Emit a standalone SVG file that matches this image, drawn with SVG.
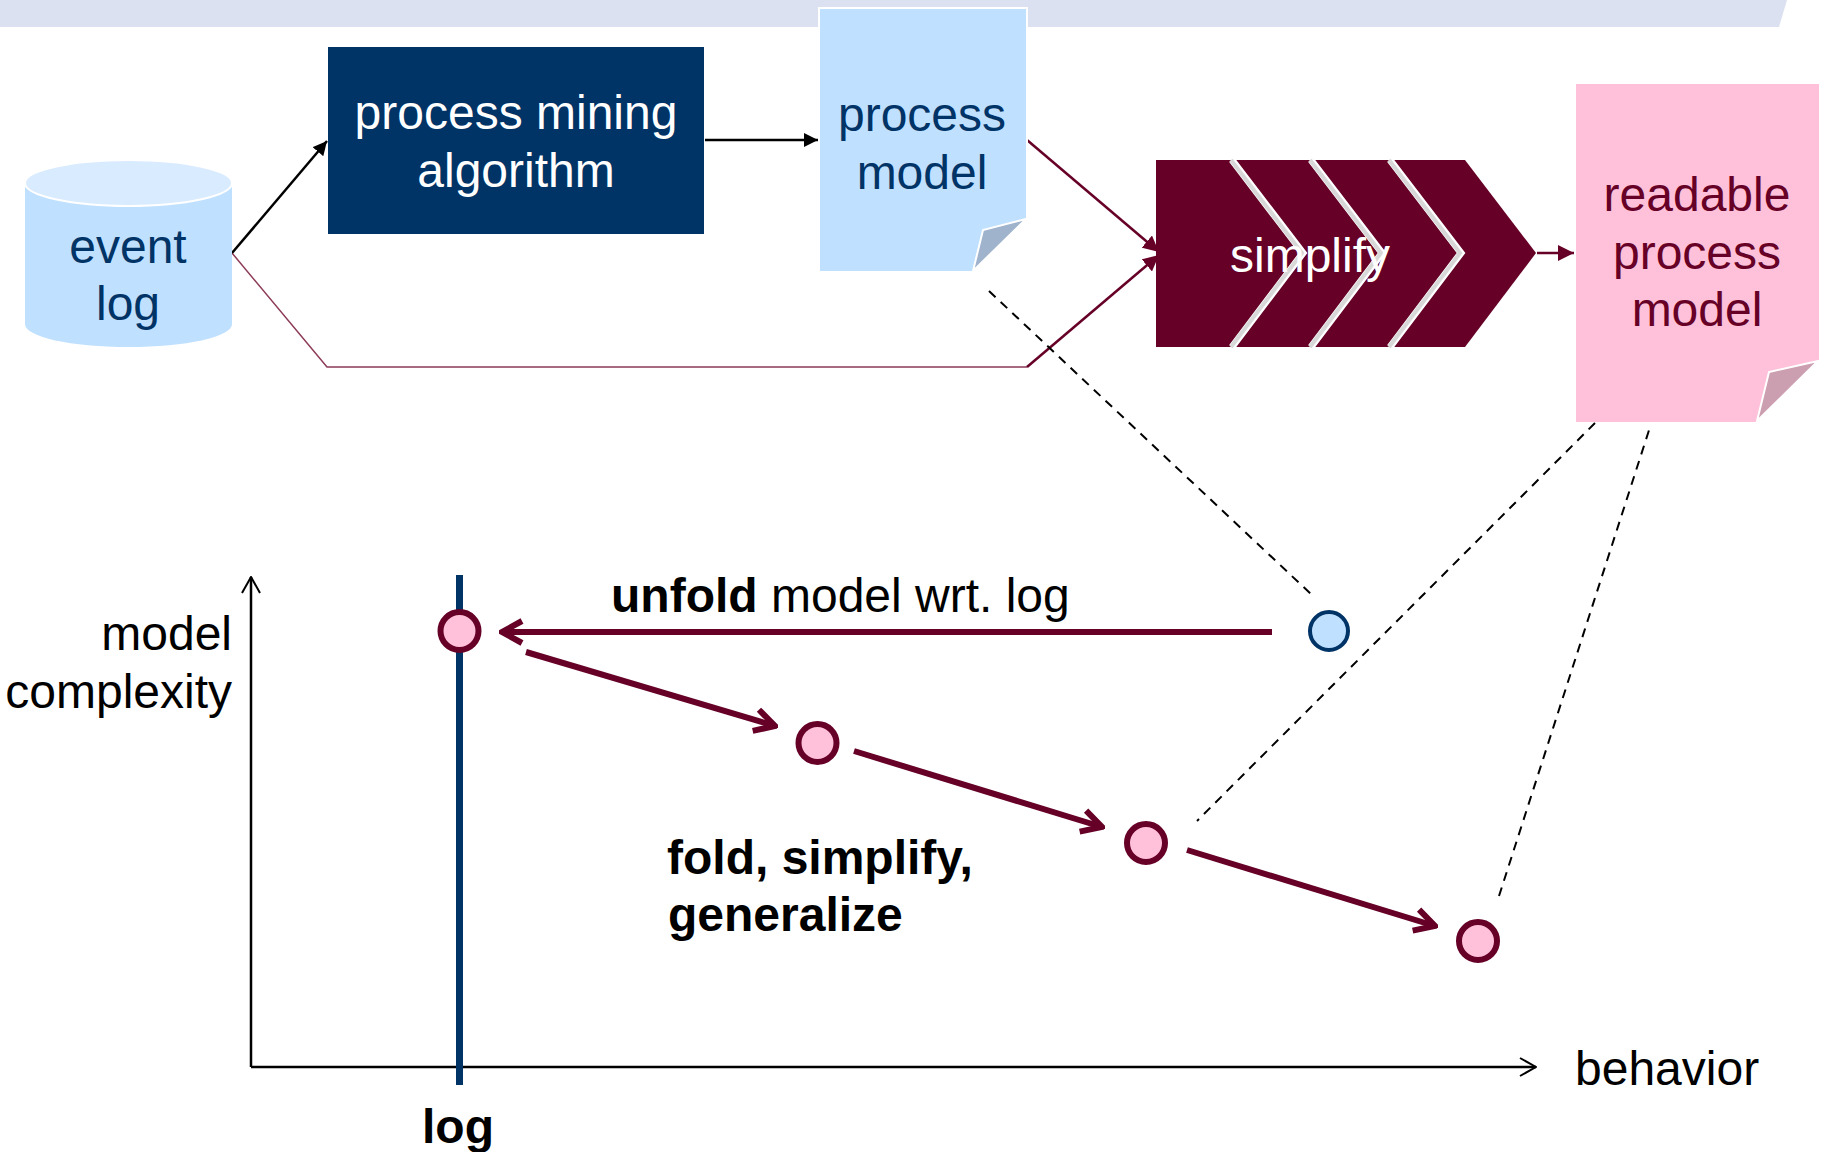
<svg xmlns="http://www.w3.org/2000/svg" width="1825" height="1152" viewBox="0 0 1825 1152">
<style>
text{font-family:"Liberation Sans",Arial,sans-serif;font-size:48px;text-anchor:middle}
.w{fill:#fff}.b{fill:#003366}.r{fill:#660026}.k{fill:#000}
.l{text-anchor:start}.e{text-anchor:end}.bold{font-weight:700}
.thin{fill:none;stroke:#8C3A58;stroke-width:1.500}
.dash{fill:none;stroke:#000;stroke-width:2;stroke-dasharray:9 7}
.thick{fill:none;stroke:#660026;stroke-width:6}
.pink{fill:#FFC0D9;stroke:#660026;stroke-width:6}
.sep{fill:none;stroke:#fff;stroke-width:7}
.sep2{fill:none;stroke:#D8D8D8;stroke-width:4}
</style>
<defs>
<marker id="ak" viewBox="0 0 10 10" refX="10" refY="5" markerWidth="14" markerHeight="14" markerUnits="userSpaceOnUse" orient="auto"><path d="M0 0L10 5L0 10Z" fill="#000"/></marker>
<marker id="ar" viewBox="0 0 10 10" refX="10" refY="5" markerWidth="16" markerHeight="16" markerUnits="userSpaceOnUse" orient="auto"><path d="M0 0L10 5L0 10Z" fill="#660026"/></marker>
<marker id="ao" viewBox="0 0 20 20" refX="19" refY="10" markerWidth="20" markerHeight="20" markerUnits="userSpaceOnUse" orient="auto"><path d="M3 1L19 10L3 19" fill="none" stroke="#000" stroke-width="2"/></marker>
<marker id="at" viewBox="0 0 30 30" refX="27" refY="15" markerWidth="30" markerHeight="30" markerUnits="userSpaceOnUse" orient="auto"><path d="M7 4L27 15L7 26" fill="none" stroke="#660026" stroke-width="6"/></marker>
</defs>
<rect width="1825" height="1152" fill="#fff"/>
<polygon id="banner" points="0,0 1787,0 1779,27 0,27" fill="#DCE1F2"/>
<g id="connectors">
<path class="thin" d="M232 253L327 367H1027"/>
<path d="M1027 367L1159 255" fill="none" stroke="#660026" stroke-width="2.500" marker-end="url(#ar)"/>
<path d="M232 253L327 141" fill="none" stroke="#000" stroke-width="2.500" marker-end="url(#ak)"/>
<path d="M705 140H818" fill="none" stroke="#000" stroke-width="2.500" marker-end="url(#ak)"/>
<path d="M1027 140L1159 252" fill="none" stroke="#660026" stroke-width="2.500" marker-end="url(#ar)"/>
<path d="M1537 253H1574" fill="none" stroke="#660026" stroke-width="2.500" marker-end="url(#ar)"/>
<path class="dash" d="M989 291L1312 595"/>
<path class="dash" d="M1595 423L1197 821"/>
<path class="dash" d="M1499 896L1651 424"/>
<path d="M251 1067V577" fill="none" stroke="#000" stroke-width="2.500" marker-end="url(#ao)"/>
<path d="M251 1067H1536" fill="none" stroke="#000" stroke-width="2.500" marker-end="url(#ao)"/>
<path d="M459.500 575V1085" fill="none" stroke="#003366" stroke-width="7"/>
<path class="thick" d="M1272 632H502" marker-end="url(#at)"/>
<path class="thick" d="M526 652L775 726" marker-end="url(#at)"/>
<path class="thick" d="M854 751L1102 827" marker-end="url(#at)"/>
<path class="thick" d="M1187 850L1435 926" marker-end="url(#at)"/>
</g>
<g id="event-log">
<path d="M25 183V324C25 337 71 347 128.500 347S232 337 232 324V183Z" fill="#C0E0FF"/>
<ellipse cx="128.500" cy="183" rx="103.500" ry="23" fill="#D9EBFF" stroke="#fff" stroke-width="2"/>
<text x="128" y="263" class="b">event</text>
<text x="128" y="320" class="b">log</text>
</g>
<g id="algorithm">
<rect x="328" y="47" width="376" height="187" fill="#003366"/>
<text x="516" y="129" class="w">process mining</text>
<text x="516" y="187" class="w">algorithm</text>
</g>
<g id="process-model">
<polygon points="819,8 1027,8 1027,218 973,272 819,272" fill="#C0E0FF" stroke="#fff" stroke-width="2"/>
<polygon points="1026,219 983,230 973,271" fill="#9FB3CC" stroke="#fff" stroke-width="2"/>
<text x="922" y="131" class="b">process</text>
<text x="922" y="189" class="b">model</text>
</g>
<g id="simplify">
<polygon points="1156,160 1465,160 1536,253 1465,347 1156,347" fill="#660026"/>
<polyline class="sep" points="1232,160 1303,253 1232,347"/>
<polyline class="sep2" points="1231,160 1302,253 1231,347"/>
<polyline class="sep" points="1311,160 1382,253 1311,347"/>
<polyline class="sep2" points="1310,160 1381,253 1310,347"/>
<polyline class="sep" points="1390,160 1461,253 1390,347"/>
<polyline class="sep2" points="1389,160 1460,253 1389,347"/>
<text x="1310" y="272" class="w">simplify</text>
</g>
<g id="readable-model">
<polygon points="1576,84 1819,84 1819,360 1757,422 1576,422" fill="#FFC0D9"/>
<polygon points="1818,361 1769,372 1757,421" fill="#CC9FB0" stroke="#fff" stroke-width="2"/>
<text x="1697" y="211" class="r">readable</text>
<text x="1697" y="269" class="r">process</text>
<text x="1697" y="326" class="r">model</text>
</g>
<g id="point-1"><circle class="pink" cx="459.500" cy="631" r="19"/></g>
<g id="point-2"><circle class="pink" cx="817.500" cy="743" r="19"/></g>
<g id="point-3"><circle class="pink" cx="1146" cy="843" r="19"/></g>
<g id="point-4"><circle class="pink" cx="1478" cy="941" r="19"/></g>
<g id="point-model"><circle cx="1329" cy="631" r="19" fill="#C0E0FF" stroke="#003366" stroke-width="4"/></g>
<g id="labels">
<text x="611" y="612" class="k l"><tspan class="bold">unfold</tspan> model wrt. log</text>
<text x="667" y="874" class="k l bold">fold, simplify,</text>
<text x="668" y="931" class="k l bold">generalize</text>
<text x="232" y="650" class="k e">model</text>
<text x="232" y="708" class="k e">complexity</text>
<text x="1575" y="1085" class="k l">behavior</text>
<text x="458" y="1143" class="k bold">log</text>
</g>
</svg>
